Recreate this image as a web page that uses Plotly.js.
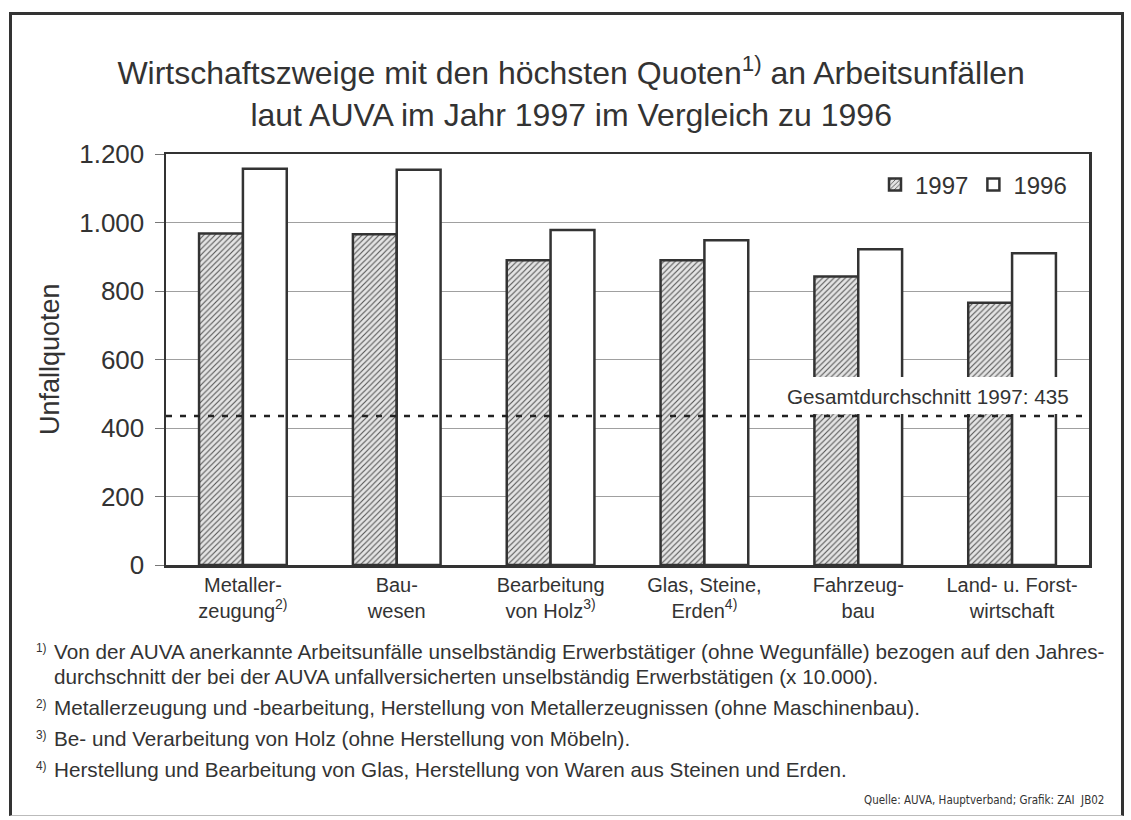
<!DOCTYPE html>
<html>
<head>
<meta charset="utf-8">
<script src="https://cdn.plot.ly/plotly-3.0.1.min.js"></script>
<style>
  html, body { margin: 0; padding: 0; background: #fff; }
  #wrap { position: relative; width: 1131px; height: 820px; }
  #chart { width: 1131px; height: 820px; }
  #frame { position: absolute; left: 9px; top: 12px; width: 1109px; height: 800px;
           border-top: 3px solid #333; border-left: 3px solid #333; border-right: 3px solid #333;
           border-bottom: 1px solid #bbb; pointer-events: none; }
</style>
</head>
<body>
<div id="wrap">
  <div id="chart"></div>
  <div id="frame"></div>
</div>
<script>
// ---- data ----
const categories = [
  "Metaller-<br>zeugung<sup>2)</sup>",
  "Bau-<br>wesen",
  "Bearbeitung<br>von Holz<sup>3)</sup>",
  "Glas, Steine,<br>Erden<sup>4)</sup>",
  "Fahrzeug-<br>bau",
  "Land- u. Forst-<br>wirtschaft"
];
const values1997 = [968, 966, 890, 890, 842, 766];
const values1996 = [1157, 1154, 978, 948, 922, 910];
const seriesNames = ["1997", "1996"];
const average1997 = 435;
const averageLabel = "Gesamtdurchschnitt 1997: 435";
const yTickValues = [0, 200, 400, 600, 800, 1000, 1200];
const titleText = "Wirtschaftszweige mit den höchsten Quoten<sup>1)</sup> an Arbeitsunfällen<br>laut AUVA im Jahr 1997 im Vergleich zu 1996";
const yTitle = "Unfallquoten";
const footnotes = [
  ["<sup>1)</sup>", "Von der AUVA anerkannte Arbeitsunfälle unselbständig Erwerbstätiger (ohne Wegunfälle) bezogen auf den Jahres-"],
  ["", "durchschnitt der bei der AUVA unfallversicherten unselbständig Erwerbstätigen (x 10.000)."],
  ["<sup>2)</sup>", "Metallerzeugung und -bearbeitung, Herstellung von Metallerzeugnissen (ohne Maschinenbau)."],
  ["<sup>3)</sup>", "Be- und Verarbeitung von Holz (ohne Herstellung von Möbeln)."],
  ["<sup>4)</sup>", "Herstellung und Bearbeitung von Glas, Herstellung von Waren aus Steinen und Erden."]
];
const sourceText = "Quelle: AUVA, Hauptverband; Grafik: ZAI  JB02";

// ---- layout helpers (pixel -> paper) ----
const L = 166, R = 1089, T = 154, B = 565;
const px = x => (x - L) / (R - L);
const py = y => (B - y) / (B - T);

const FONT = "Liberation Sans, Arial, Helvetica, sans-serif";
const NARROW = "Liberation Sans Narrow, DejaVu Sans Condensed, Liberation Sans, Arial, sans-serif";
const TXT = "#333";

const traces = [
  {
    type: "bar", name: seriesNames[0], x: categories, y: values1997,
    marker: {
      color: "#dcdcdc",
      line: { color: "#333", width: 2.5 },
      pattern: { shape: "/", fgcolor: "#555", bgcolor: "#e4e4e4", size: 4, solidity: 0.28 }
    },
    hoverinfo: "skip"
  },
  {
    type: "bar", name: seriesNames[1], x: categories, y: values1996,
    marker: { color: "#ffffff", line: { color: "#333", width: 2.5 } },
    hoverinfo: "skip"
  }
];

const annotations = [];
annotations.push({
  xref: "paper", yref: "paper", x: px(1071), y: py(396), xanchor: "right", yanchor: "middle",
  text: averageLabel, showarrow: false, font: { family: FONT, size: 20.7, color: TXT }
});
annotations.push({
  xref: "paper", yref: "paper", x: px(50), y: py(359), xanchor: "center", yanchor: "middle",
  text: yTitle, textangle: -90, showarrow: false, font: { family: FONT, size: 27, color: TXT }
});
const footY = [651, 676, 707, 738, 769];
footnotes.forEach((f, i) => {
  if (f[0]) annotations.push({
    xref: "paper", yref: "paper", x: px(34), y: py(footY[i] - 3), xanchor: "left", yanchor: "middle",
    text: f[0], showarrow: false, font: { family: FONT, size: 17, color: TXT }
  });
  annotations.push({
    xref: "paper", yref: "paper", x: px(52), y: py(footY[i]), xanchor: "left", yanchor: "middle",
    text: f[1], showarrow: false, font: { family: FONT, size: 20.7, color: TXT }
  });
});
annotations.push({
  xref: "paper", yref: "paper", x: px(1106), y: py(800), xanchor: "right", yanchor: "middle",
  text: sourceText, showarrow: false, font: { family: NARROW, size: 11.5, color: TXT }
});

const layout = {
  width: 1131, height: 820,
  margin: { l: L, r: 1131 - R, t: T, b: 820 - B },
  paper_bgcolor: "rgba(0,0,0,0)", plot_bgcolor: "#fff",
  separators: ",.",
  font: { family: FONT, color: TXT },
  title: {
    text: titleText, x: 0.505, xref: "container", xanchor: "center",
    y: 1 - 84 / 820, yref: "container", yanchor: "middle",
    font: { family: FONT, size: 32, color: TXT }
  },
  barmode: "group", bargap: 0.43, bargroupgap: 0,
  xaxis: {
    type: "category", showgrid: false, zeroline: false,
    showline: true, linecolor: "#333", linewidth: 2.5, mirror: true,
    ticks: "", tickfont: { family: FONT, size: 20, color: TXT }, fixedrange: true
  },
  yaxis: {
    range: [0, 1200], tickvals: yTickValues, tickformat: ",d",
    showgrid: true, gridcolor: "#a0a0a0", gridwidth: 1, zeroline: false,
    showline: true, linecolor: "#333", linewidth: 2.5, mirror: true,
    ticks: "outside", ticklen: 9, tickcolor: "#777", tickwidth: 1,
    ticklabelstandoff: 5,
    tickfont: { family: FONT, size: 26, color: TXT },
    fixedrange: true
  },
  legend: {
    orientation: "h", x: px(1072), xanchor: "right", y: py(185), yanchor: "middle",
    font: { family: FONT, size: 24, color: TXT }, bgcolor: "rgba(0,0,0,0)",
    itemwidth: 30, traceorder: "normal"
  },
  shapes: [
    { type: "rect", xref: "paper", yref: "paper", x0: px(781), x1: px(1087), y0: py(414), y1: py(377),
      fillcolor: "#fff", line: { width: 0 }, layer: "above" },
    { type: "line", xref: "paper", yref: "y", x0: 0, x1: 1, y0: average1997, y1: average1997,
      line: { color: "#222", width: 2.5, dash: "6px,8px" }, layer: "above" }
  ],
  annotations: annotations
};

Plotly.newPlot("chart", traces, layout, { displayModeBar: false, staticPlot: true });
</script>
</body>
</html>
